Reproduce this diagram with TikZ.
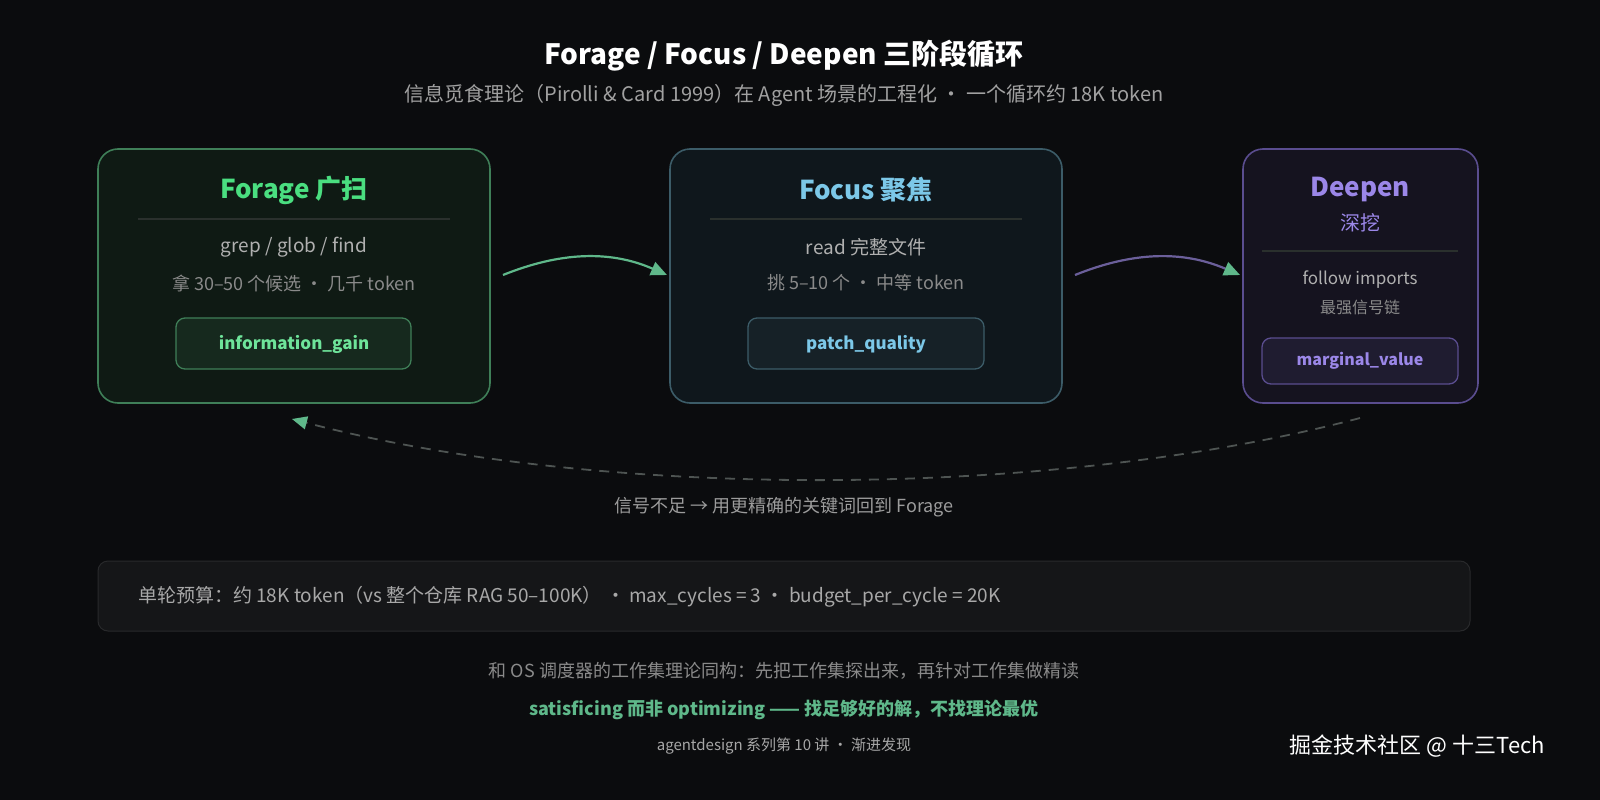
\documentclass[tikz,border=0pt]{standalone}
\usepackage{fontspec}
\setmainfont{Noto Sans CJK SC}
\usetikzlibrary{arrows.meta}
\definecolor{bg}{HTML}{0B0C0E}
\definecolor{gb}{HTML}{3F7F58}\definecolor{gf}{HTML}{0F1A14}\definecolor{gt}{HTML}{4ADE80}
\definecolor{cb}{HTML}{3C5C68}\definecolor{cf}{HTML}{0F171C}\definecolor{ct}{HTML}{7CC8E8}
\definecolor{pb}{HTML}{5A4D8F}\definecolor{pf}{HTML}{15131F}\definecolor{pt}{HTML}{9B87E8}
\definecolor{txt}{HTML}{B0B0B0}\definecolor{dim}{HTML}{8A8A8A}\definecolor{ah}{HTML}{5FB88A}
\definecolor{divc}{HTML}{2A302D}\definecolor{dash}{HTML}{4E5452}
\newcommand{\fs}[1]{\fontsize{#1}{#1}\selectfont}
\begin{document}
\begin{tikzpicture}[x=1pt,y=-1pt,
 card/.style={rounded corners=20pt,line width=1.6pt},
 pill/.style={rounded corners=9pt,line width=1.3pt},
 t/.style={inner sep=0pt,anchor=center},
 arr/.style={line width=2.2pt,-{Triangle[length=16pt,width=14pt,color=ah]}}]
\fill[bg] (0,0) rectangle (1600,800);
\useasboundingbox (0,0) rectangle (1600,800);
\node[t,text=white,font=\fs{28}\bfseries] (title) at (784,56) {Forage / Focus / Deepen 三阶段循环};
\node[t,text=dim!80,font=\fs{20}] (sub) at (784,95) {信息觅食理论（Pirolli \& Card 1999）在 Agent 场景的工程化 · 一个循环约 18K token};
% cards
\draw[card,draw=gb,fill=gf] (98,149) rectangle (490,403);
\draw[divc,line width=1.2pt] (138,219) -- (450,219);
\node[t,text=gt,font=\fs{26}\bfseries] (fot) at (294,190) {Forage 广扫};
\node[t,text=txt,font=\fs{19}] (fo1) at (294,247) {grep / glob / find};
\node[t,text=dim,font=\fs{18}] (fo2) at (294,283) {拿 30–50 个候选 · 几千 token};
\draw[pill,draw=gb,fill=gf!85!gb] (176,318) rectangle (411,369);
\node[t,text=gt!80!white,font=\fs{17}\bfseries] (fop) at (294,344) {information\_gain};

\draw[card,draw=cb,fill=cf] (670,149) rectangle (1062,403);
\draw[divc,line width=1.2pt] (710,219) -- (1022,219);
\node[t,text=ct,font=\fs{26}\bfseries] (fct) at (866,190) {Focus 聚焦};
\node[t,text=txt,font=\fs{19}] (fc1) at (866,247) {read 完整文件};
\node[t,text=dim,font=\fs{18}] (fc2) at (866,283) {挑 5–10 个 · 中等 token};
\draw[pill,draw=cb,fill=cf!85!cb] (748,318) rectangle (984,369);
\node[t,text=ct,font=\fs{17}\bfseries] (fcp) at (866,344) {patch\_quality};

\draw[card,draw=pb,fill=pf] (1243,149) rectangle (1478,403);
\draw[divc,line width=1.2pt] (1262,251) -- (1458,251);
\node[t,text=pt,font=\fs{26}\bfseries] (dpt) at (1360,190) {Deepen};
\node[t,text=pt,font=\fs{20}] (dpt2) at (1360,223) {深挖};
\node[t,text=txt,font=\fs{17}] (dp1) at (1360,280) {follow imports};
\node[t,text=dim,font=\fs{16}] (dp2) at (1360,307) {最强信号链};
\draw[pill,draw=pb,fill=pf!85!pb] (1262,338) rectangle (1458,384);
\node[t,text=pt,font=\fs{16}\bfseries] (dpp) at (1360,361) {marginal\_value};

% arrows
\coordinate (a1) at (503,275); \coordinate (a2) at (667,275);
\coordinate (b1) at (1075,275); \coordinate (b2) at (1240,275);
\draw[arr,draw=ah] (a1) .. controls (560,252) and (610,250) .. (a2);
\draw[arr,draw=pb!90!white] (b1) .. controls (1132,252) and (1182,250) .. (b2);
\coordinate (r1) at (1360,418); \coordinate (r2) at (292,419);
\draw[line width=1.8pt,draw=dash,dash pattern=on 10pt off 8pt,-{Triangle[length=15pt,width=13pt,color=ah]}]
 (r1) .. controls (1050,500) and (600,500) .. (r2);
\node[t,text=dim!85,font=\fs{18}] (rl) at (784,507) {信号不足 → 用更精确的关键词回到 Forage};

% bottom
\draw[rounded corners=10pt,draw=white!12!bg,fill=white!4!bg,line width=1pt] (98,561) rectangle (1470,631);
\node[t,anchor=west,text=txt!110,font=\fs{19}] (bt) at (138,597) {单轮预算：约 18K token（vs 整个仓库 RAG 50–100K） · max\_cycles = 3 · budget\_per\_cycle = 20K};
\node[t,text=dim,font=\fs{18}] (l1) at (784,671) {和 OS 调度器的工作集理论同构：先把工作集探出来，再针对工作集做精读};
\node[t,text=ah,font=\fs{18}\bfseries] (l2) at (784,710) {satisficing 而非 optimizing —— 找足够好的解，不找理论最优};
\node[t,text=dim!75,font=\fs{15}] (l3) at (784,746) {agentdesign 系列第 10 讲 · 渐进发现};
\node[t,anchor=east,text=white!80,font=\fs{22}] (wm) at (1545,746) {掘金技术社区 @ 十三Tech};
\end{tikzpicture}
\end{document}
